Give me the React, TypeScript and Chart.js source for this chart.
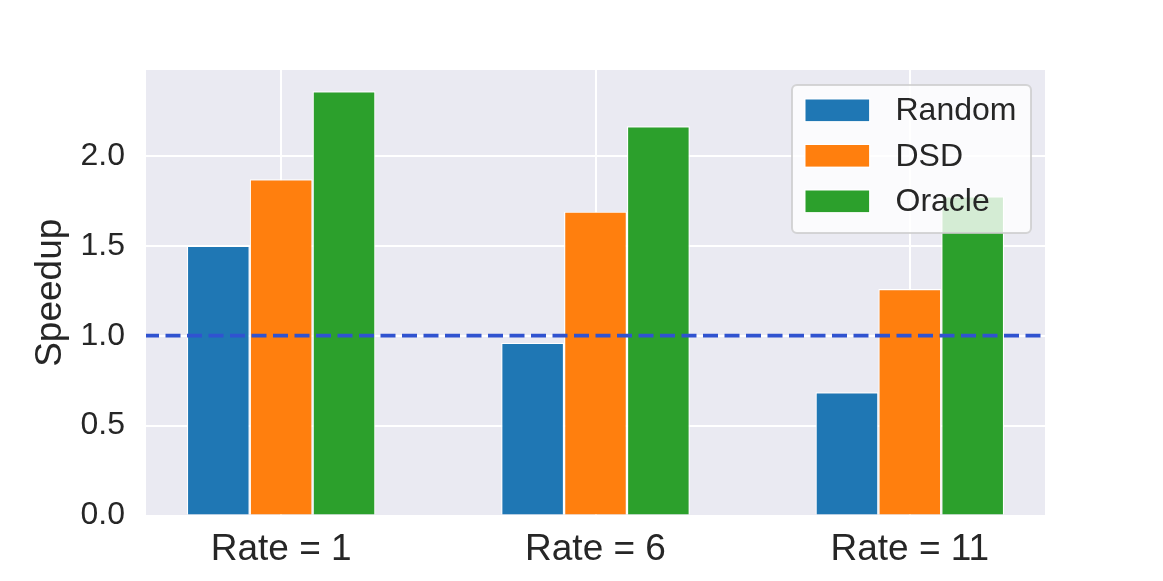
import React, { useEffect, useRef } from "react";
import { Chart, registerables } from "chart.js";

Chart.register(...registerables);

const categories = ["Rate = 1", "Rate = 6", "Rate = 11"];
const seriesNames = ["Random", "DSD", "Oracle"];
const randomSpeedup = [1.5, 0.96, 0.685];
const dsdSpeedup = [1.87, 1.69, 1.26];
const oracleSpeedup = [2.36, 2.165, 1.775];
const seriesColors = ["#1f77b4", "#ff7f0e", "#2ca02c"];
const yTicks = [0, 0.5, 1.0, 1.5, 2.0];
const baselineValue = 1.0;
const xMin = -0.43;
const xMax = 2.43;
const yMax = 2.478;

const FONT = '"Liberation Sans", Arial, sans-serif';
const TEXT = "#262626";

const bgPlugin = {
  id: "bgPlugin",
  beforeDraw(chart: any) {
    const { ctx, chartArea } = chart;
    ctx.save();
    ctx.fillStyle = "#EAEAF2";
    ctx.fillRect(chartArea.left, chartArea.top, chartArea.right - chartArea.left, chartArea.bottom - chartArea.top);
    ctx.restore();
  },
};

const refLinePlugin = {
  id: "refLinePlugin",
  afterDatasetsDraw(chart: any) {
    const { ctx, chartArea, scales } = chart;
    const y = scales.y.getPixelForValue(baselineValue);
    ctx.save();
    ctx.strokeStyle = "#3053d0";
    ctx.lineWidth = 3.8;
    ctx.setLineDash([15, 6.5]);
    ctx.lineDashOffset = 2;
    ctx.beginPath();
    ctx.moveTo(chartArea.left, y);
    ctx.lineTo(chartArea.right, y);
    ctx.stroke();
    ctx.restore();
  },
};

const legendPlugin = {
  id: "legendPlugin",
  afterDraw(chart: any) {
    const { ctx, chartArea } = chart;
    const w = 239;
    const h = 148;
    const x = chartArea.right - 14 - w;
    const y = chartArea.top + 15;
    const r = 5;
    ctx.save();
    ctx.beginPath();
    ctx.moveTo(x + r, y);
    ctx.lineTo(x + w - r, y);
    ctx.arcTo(x + w, y, x + w, y + r, r);
    ctx.lineTo(x + w, y + h - r);
    ctx.arcTo(x + w, y + h, x + w - r, y + h, r);
    ctx.lineTo(x + r, y + h);
    ctx.arcTo(x, y + h, x, y + h - r, r);
    ctx.lineTo(x, y + r);
    ctx.arcTo(x, y, x + r, y, r);
    ctx.closePath();
    ctx.fillStyle = "rgba(255,255,255,0.8)";
    ctx.fill();
    ctx.strokeStyle = "rgba(204,204,204,0.8)";
    ctx.lineWidth = 2;
    ctx.stroke();
    const rows = [25.3, 70.8, 116.3];
    chart.data.datasets.forEach((ds: any, i: number) => {
      const cy = y + rows[i];
      ctx.fillStyle = "#ffffff";
      ctx.fillRect(x + 12.3, cy - 12, 66, 24);
      ctx.fillStyle = ds.backgroundColor;
      ctx.fillRect(x + 13.5, cy - 10.8, 63.6, 21.6);
      ctx.fillStyle = TEXT;
      ctx.font = `32px ${FONT}`;
      ctx.textAlign = "left";
      ctx.textBaseline = "middle";
      ctx.fillText(ds.label, x + 103.5, cy + 1);
    });
    ctx.restore();
  },
};

export default function App() {
  const canvasRef = useRef<HTMLCanvasElement | null>(null);

  useEffect(() => {
    const canvas = canvasRef.current;
    if (!canvas) return;
    const series = [randomSpeedup, dsdSpeedup, oracleSpeedup];
    const chart = new Chart(canvas, {
      type: "bar",
      data: {
        datasets: series.map((vals, si) => ({
          label: seriesNames[si],
          data: vals.map((v, i) => ({ x: i, y: v })),
          backgroundColor: seriesColors[si],
          borderColor: "#ffffff",
          borderWidth: 1.2,
          borderSkipped: "bottom",
          categoryPercentage: 0.6,
          barPercentage: 1.0,
        })),
      },
      options: {
        animation: false,
        responsive: false,
        maintainAspectRatio: false,
        layout: { padding: { top: 70, right: 118, left: 0, bottom: 0 } },
        plugins: {
          legend: { display: false },
          tooltip: { enabled: false },
          title: { display: false },
        },
        scales: {
          x: {
            type: "linear",
            min: xMin,
            max: xMax,
            offset: false,
            afterBuildTicks: (scale: any) => {
              scale.ticks = categories.map((_, i) => ({ value: i }));
            },
            afterFit: (scale: any) => {
              scale.height = 65.5;
            },
            grid: { color: "#ffffff", lineWidth: 2, drawTicks: false, offset: false },
            border: { display: false },
            ticks: {
              padding: 12,
              color: TEXT,
              font: { family: FONT, size: 37 },
              maxRotation: 0,
              autoSkip: false,
              callback: (v: any) => categories[Math.round(Number(v))] ?? "",
            },
          },
          y: {
            type: "linear",
            min: 0,
            max: yMax,
            afterBuildTicks: (scale: any) => {
              scale.ticks = yTicks.map((v) => ({ value: v }));
            },
            afterFit: (scale: any) => {
              scale.width = 146;
            },
            grid: { color: "#ffffff", lineWidth: 2, drawTicks: false },
            border: { display: false },
            ticks: {
              padding: 21,
              color: TEXT,
              font: { family: FONT, size: 32 },
              callback: (v: any) => Number(v).toFixed(1),
            },
            title: {
              display: true,
              text: "Speedup",
              color: TEXT,
              font: { family: FONT, size: 37 },
              padding: { top: 29, bottom: 0 },
            },
          },
        },
      },
      plugins: [bgPlugin, refLinePlugin, legendPlugin],
    } as any);
    return () => chart.destroy();
  }, []);

  return (
    <div style={{ position: "fixed", left: 0, top: 0, width: 1163, height: 581, background: "#ffffff" }}>
      <canvas ref={canvasRef} width={1163} height={581} style={{ width: 1163, height: 581 }} />
    </div>
  );
}
